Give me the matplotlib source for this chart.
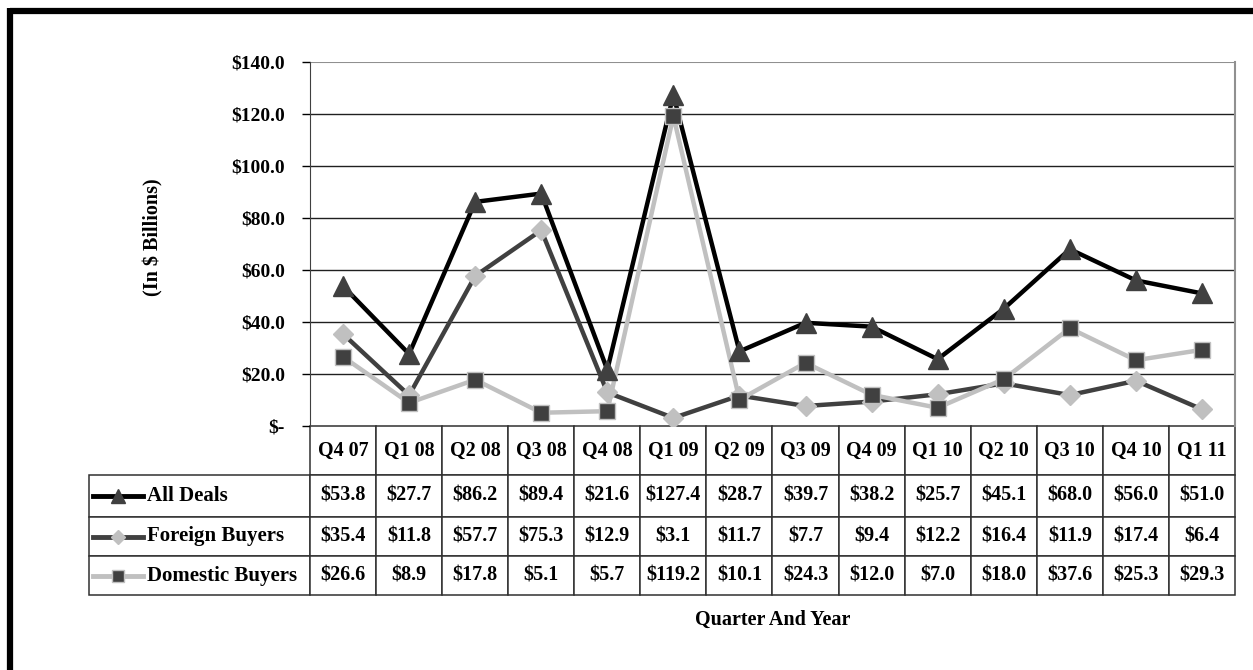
import numpy as np
import matplotlib
matplotlib.use("Agg")
import matplotlib.pyplot as plt
from matplotlib.lines import Line2D

plt.rcParams["font.family"] = "Liberation Serif"
plt.rcParams["font.weight"] = "bold"

###
# Data
#####
quarters = ["Q4 07", "Q1 08", "Q2 08", "Q3 08", "Q4 08", "Q1 09", "Q2 09",
            "Q3 09", "Q4 09", "Q1 10", "Q2 10", "Q3 10", "Q4 10", "Q1 11"]
all_deals = [53.8, 27.7, 86.2, 89.4, 21.6, 127.4, 28.7, 39.7, 38.2, 25.7, 45.1, 68.0, 56.0, 51.0]
foreign_buyers = [35.4, 11.8, 57.7, 75.3, 12.9, 3.1, 11.7, 7.7, 9.4, 12.2, 16.4, 11.9, 17.4, 6.4]
domestic_buyers = [26.6, 8.9, 17.8, 5.1, 5.7, 119.2, 10.1, 24.3, 12.0, 7.0, 18.0, 37.6, 25.3, 29.3]
series_names = ["All Deals", "Foreign Buyers", "Domestic Buyers"]
y_ticks = [0, 20, 40, 60, 80, 100, 120, 140]

dark = "#404040"
light = "#c0c0c0"
styles = [
    dict(color="black", marker="^", mfc=dark, mec=dark, ms=14),
    dict(color=dark, marker="D", mfc=light, mec=light, ms=10),
    dict(color=light, marker="s", mfc=dark, mec=light, ms=12),
]

W, H = 1253, 670
fig = plt.figure(figsize=(W / 100, H / 100), dpi=100)

# pixel layout of the plot area
px_l, px_r, px_t, px_b = 310, 1235, 62, 426
ax = fig.add_axes([px_l / W, 1 - px_b / H, (px_r - px_l) / W, (px_b - px_t) / H])
pw, ph = px_r - px_l, px_b - px_t

# outer frame (top and left visible)
fig.add_artist(Line2D([10 / W, 1.0], [1 - 11 / H, 1 - 11 / H], transform=fig.transFigure,
                      color="black", linewidth=4.5, solid_capstyle="butt"))
fig.add_artist(Line2D([10 / W, 10 / W], [0, 1 - 8 / H], transform=fig.transFigure,
                      color="black", linewidth=4.5, solid_capstyle="butt"))

x = np.arange(len(quarters))
data = [all_deals, foreign_buyers, domestic_buyers]
for i, (vals, st) in enumerate(zip(data, styles)):
    ax.plot(x, vals, "-", color=st["color"], linewidth=3.2, zorder=3 + i, solid_joinstyle="miter")
for i, (vals, st) in enumerate(zip(data, styles)):
    ax.plot(x, vals, linestyle="none", marker=st["marker"], markersize=st["ms"],
            markerfacecolor=st["mfc"], markeredgecolor=st["mec"], markeredgewidth=1,
            zorder=10 + i)

ax.set_xlim(-0.5, len(quarters) - 0.5)
ax.set_ylim(0, 140)
ax.set_yticks(y_ticks)
ax.set_yticklabels(["$-" if v == 0 else "${:.1f}".format(v) for v in y_ticks], fontsize=14)
ax.tick_params(axis="y", length=6, width=1, pad=12, color="black")
ax.set_xticks([])
for v in y_ticks[1:-1]:
    ax.axhline(v, color="#202020", linewidth=1, zorder=1)
ax.axhline(140, color="#909090", linewidth=1.5, zorder=1)
for s in ["top", "bottom"]:
    ax.spines[s].set_visible(False)
ax.spines["left"].set_color("#404040")
ax.spines["right"].set_color("#909090")
ax.spines["right"].set_linewidth(1.5)

ax.text((153 - px_l) / pw, (px_b - 237) / ph, "(In $ Billions)", rotation=90,
        transform=ax.transAxes, ha="center", va="center", fontsize=14.5)
ax.text((773 - px_l) / pw, (px_b - 620) / ph, "Quarter And Year",
        transform=ax.transAxes, ha="center", va="center", fontsize=14.5)

###
# Data table under the chart (first column holds the legend keys)
#####
cell_text = [[""] + ["${:.1f}".format(v) for v in row] for row in data]
tab_l, tab_b = 89, 595
row_h = [49, 42, 39, 39]
col_w = pw / len(quarters)
tbl = ax.table(cellText=cell_text, colLabels=[""] + quarters, cellLoc="center",
               bbox=[(tab_l - px_l) / pw, -(tab_b - px_b) / ph, (px_r - tab_l) / pw, (tab_b - px_b) / ph])
tbl.auto_set_font_size(False)
for (r, c), cell in tbl.get_celld().items():
    cell.set_height(row_h[r])
    cell.set_width(px_l - tab_l if c == 0 else col_w)
    cell.set_linewidth(1.1)
    cell.set_edgecolor("#303030")
    cell.get_text().set_fontsize(14.5)
    cell.get_text().set_fontweight("bold")
tbl[(0, 0)].visible_edges = ""

# legend keys and row labels
row_tops = np.cumsum([px_b] + row_h)
for i, (name, st) in enumerate(zip(series_names, styles)):
    yc = (px_b - (row_tops[i + 1] + row_tops[i + 2]) / 2) / ph
    ax.plot([(93 - px_l) / pw, (143 - px_l) / pw], [yc, yc], "-", color=st["color"],
            linewidth=3.5, transform=ax.transAxes, clip_on=False)
    ax.plot([(118 - px_l) / pw], [yc], linestyle="none", marker=st["marker"],
            markersize=st["ms"] * 0.75, markerfacecolor=st["mfc"], markeredgecolor=st["mec"],
            transform=ax.transAxes, clip_on=False)
    ax.text((147 - px_l) / pw, yc, name, transform=ax.transAxes, ha="left", va="center",
            fontsize=15)

plt.savefig("out.png", dpi=100)
